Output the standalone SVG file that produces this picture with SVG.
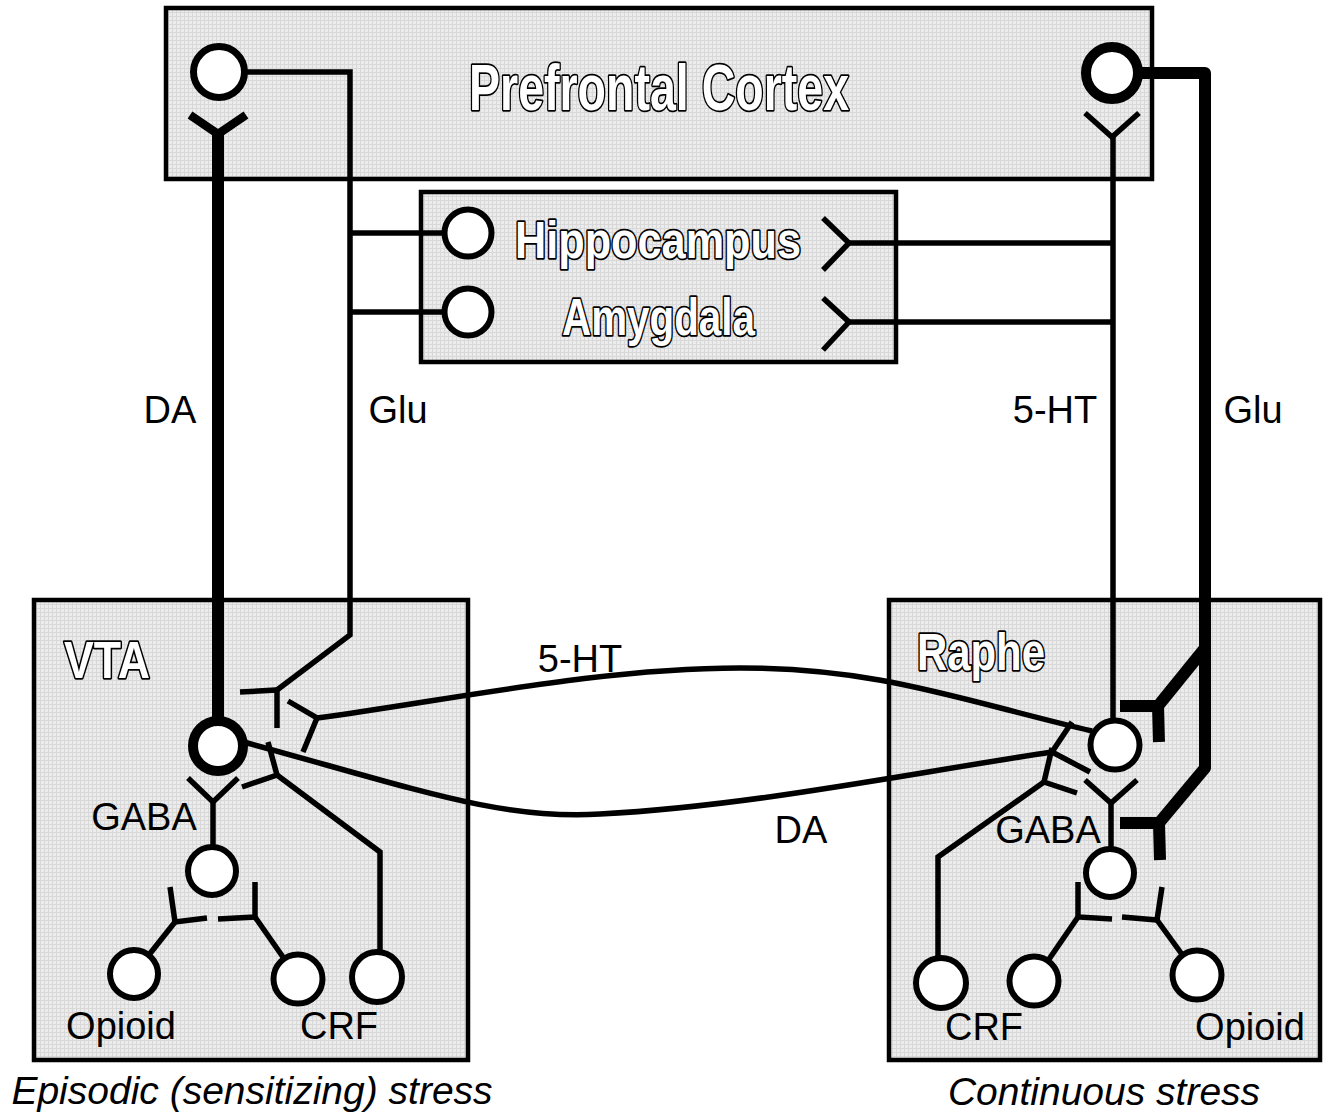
<svg xmlns="http://www.w3.org/2000/svg" width="1333" height="1116" viewBox="0 0 1333 1116">
  <defs>
    <!-- fine screen texture for the brain-region boxes -->
    <pattern id="tex" width="4" height="4" patternUnits="userSpaceOnUse">
      <rect width="4" height="4" fill="#ececec"/>
      <path d="M0,0.5H4M0.5,0V4" stroke="#d8d8d8" stroke-width="1"/>
    </pattern>
    <style>
      .region{fill:url(#tex);stroke:#000;stroke-width:4.5}
      .ln{fill:none;stroke:#000;stroke-width:5.5;stroke-linejoin:miter;stroke-linecap:butt}
      .da{stroke-width:12}
      .daArm{stroke-width:8.5}
      .glu{stroke-width:12;stroke-linejoin:round}
      .cell{fill:#fff;stroke:#000;stroke-width:6}
      .big{stroke-width:10}
      .title{font-family:"Liberation Sans",Arial,sans-serif;font-weight:bold;fill:#fff;stroke:#000;stroke-width:3.5;stroke-linejoin:round;paint-order:stroke}
      .lbl{font-family:"Liberation Sans",Arial,sans-serif;font-size:38px;fill:#000;text-anchor:middle}
      .cap{font-family:"Liberation Sans",Arial,sans-serif;font-size:39px;font-style:italic;fill:#000;text-anchor:middle}
    </style>
  </defs>

  <rect width="1333" height="1116" fill="#fff"/>

  <!-- brain regions -->
  <g id="pfc">
    <rect class="region" x="166" y="8" width="986" height="171"/>
    <text class="title" x="469" y="110" font-size="64" textLength="380" lengthAdjust="spacingAndGlyphs">Prefrontal Cortex</text>
  </g>
  <g id="hippo-amyg">
    <rect class="region" x="421" y="192" width="475" height="170"/>
    <text class="title" x="515" y="258" font-size="52" textLength="286" lengthAdjust="spacingAndGlyphs">Hippocampus</text>
    <text class="title" x="562" y="335" font-size="52" textLength="193" lengthAdjust="spacingAndGlyphs">Amygdala</text>
  </g>
  <g id="vta">
    <rect class="region" x="34" y="600" width="434" height="460"/>
    <text class="title" x="64" y="678" font-size="52" textLength="86" lengthAdjust="spacingAndGlyphs">VTA</text>
  </g>
  <g id="raphe">
    <rect class="region" x="889" y="600" width="431" height="460"/>
    <text class="title" x="917" y="670" font-size="51" textLength="128" lengthAdjust="spacingAndGlyphs">Raphe</text>
  </g>

  <!-- projections and synaptic terminals -->
  <g id="connectors">
    <!-- DA: VTA -> PFC -->
    <polyline class="ln daArm" points="190,115 218,134 246,115"/>
    <path class="ln da" d="M218,134V746"/>
    <!-- Glu: PFC -> VTA, with branches to hippocampus / amygdala -->
    <path class="ln" d="M219,72H350V635L277,690"/>
    <polyline class="ln" points="240,692 277,690 277,728"/>
    <path class="ln" d="M350,233H468M350,312H468"/>
    <!-- 5-HT: Raphe -> PFC -->
    <polyline class="ln" points="1085,113 1112,137 1139,113"/>
    <path class="ln" d="M1113,137V745"/>
    <!-- hippocampus / amygdala outputs onto the 5-HT pathway -->
    <polyline class="ln" points="823,218 849,243 823,270"/>
    <path class="ln" d="M849,243H1113"/>
    <polyline class="ln" points="823,298 849,322 823,350"/>
    <path class="ln" d="M849,322H1113"/>
    <!-- Glu: PFC -> Raphe (heavy) -->
    <path class="ln glu" d="M1112,73H1205V768L1159,823"/>
    <path class="ln glu" d="M1205,648L1158,706"/>
    <polyline class="ln glu" style="stroke-linejoin:miter" points="1120,706 1158,706 1159,742"/>
    <polyline class="ln glu" style="stroke-linejoin:miter" points="1120,823 1159,823 1160,860"/>
    <!-- 5-HT: Raphe -> VTA -->
    <path class="ln" d="M317,718C450,700 600,668 740,668C880,668 960,700 1092,731"/>
    <polyline class="ln" points="288,701 317,718 303,752"/>
    <!-- DA: VTA -> Raphe -->
    <path class="ln" d="M240,741C420,790 500,820 600,814C750,806 900,775 1052,752"/>
    <polyline class="ln" points="1072,722 1052,752 1090,772"/>
    <!-- VTA local circuit -->
    <polyline class="ln" points="268,742 277,775 242,787"/>
    <path class="ln" d="M277,775L380,852V978"/>
    <polyline class="ln" points="188,778 213,802 238,778"/>
    <path class="ln" d="M213,802V871"/>
    <polyline class="ln" points="170,887 175,922 207,918"/>
    <path class="ln" d="M175,922L133,975"/>
    <polyline class="ln" points="255,882 255,917 218,919"/>
    <path class="ln" d="M255,917L299,980"/>
    <!-- Raphe local circuit -->
    <polyline class="ln" points="1052,748 1044,782 1077,793"/>
    <path class="ln" d="M1044,782L938,857V983"/>
    <polyline class="ln" points="1085,780 1111,803 1137,780"/>
    <path class="ln" d="M1111,803V873"/>
    <polyline class="ln" points="1078,882 1078,917 1112,919"/>
    <path class="ln" d="M1078,917L1034,981"/>
    <polyline class="ln" points="1162,887 1157,920 1122,917"/>
    <path class="ln" d="M1157,920L1197,975"/>
  </g>

  <!-- neurons -->
  <g id="pfc-glu-left"><circle class="cell" cx="219" cy="72" r="25.5" style="stroke-width:7"/></g>
  <g id="pfc-glu-right"><circle class="cell big" cx="1112" cy="73" r="26"/></g>
  <g id="hippocampus-cell"><circle class="cell" cx="468" cy="233" r="23.5"/></g>
  <g id="amygdala-cell"><circle class="cell" cx="468" cy="312" r="23.5"/></g>
  <g id="vta-da"><circle class="cell big" cx="218" cy="746" r="25"/></g>
  <g id="vta-gaba"><circle class="cell" cx="212" cy="871" r="24"/></g>
  <g id="vta-opioid"><circle class="cell" cx="134" cy="974" r="24"/></g>
  <g id="vta-crf-a"><circle class="cell" cx="298" cy="979" r="24.5"/></g>
  <g id="vta-crf-b"><circle class="cell" cx="377" cy="977" r="25"/></g>
  <g id="raphe-5ht"><circle class="cell" cx="1115" cy="745" r="24.5"/></g>
  <g id="raphe-gaba"><circle class="cell" cx="1110" cy="873" r="24"/></g>
  <g id="raphe-crf"><circle class="cell" cx="941" cy="983" r="25"/></g>
  <g id="raphe-crf-b"><circle class="cell" cx="1034" cy="981" r="24.5"/></g>
  <g id="raphe-opioid"><circle class="cell" cx="1197" cy="975" r="24.5"/></g>

  <!-- transmitter and cell labels -->
  <g id="labels">
    <text class="lbl" x="170" y="423">DA</text>
    <text class="lbl" x="398" y="423">Glu</text>
    <text class="lbl" x="1055" y="423">5-HT</text>
    <text class="lbl" x="1253" y="423">Glu</text>
    <text class="lbl" x="580" y="672">5-HT</text>
    <text class="lbl" x="801" y="843">DA</text>
    <text class="lbl" x="144" y="830">GABA</text>
    <text class="lbl" x="1048" y="843">GABA</text>
    <text class="lbl" x="121" y="1039">Opioid</text>
    <text class="lbl" x="339" y="1039">CRF</text>
    <text class="lbl" x="984" y="1040">CRF</text>
    <text class="lbl" x="1250" y="1040">Opioid</text>
    <text class="cap" x="252" y="1104">Episodic (sensitizing) stress</text>
    <text class="cap" x="1104" y="1105">Continuous stress</text>
  </g>
</svg>
